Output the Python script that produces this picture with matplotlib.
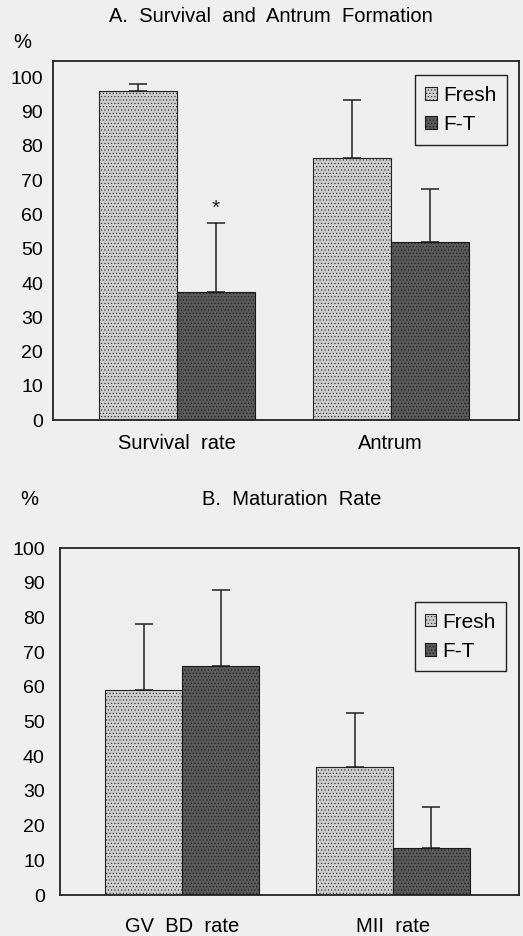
import numpy as np
import matplotlib
matplotlib.use("Agg")
import matplotlib.pyplot as plt

plt.rcParams['font.family'] = ['Liberation Sans', 'DejaVu Sans']
plt.rcParams['hatch.linewidth'] = 0.4

# data (%)
groups = ["Fresh", "F-T"]
cats_a = ["Survival  rate", "Antrum"]
fresh_a = [96, 76.5]
fresh_a_err = [2, 17]
ft_a = [37.5, 52]
ft_a_err = [20, 15.5]

cats_b = ["GV  BD  rate", "MII  rate"]
fresh_b = [59, 37]
fresh_b_err = [19, 15.5]
ft_b = [66, 13.5]
ft_b_err = [22, 12]

yticks = list(range(0, 101, 10))

bg = '#efefef'
c_fresh = '#cdcdcd'
c_ft = '#595959'
w = 0.365
fs = 14.5

fig = plt.figure(figsize=(5.23, 9.36), dpi=100, facecolor=bg)
ax_a = fig.add_axes([0.101, 0.551, 0.891, 0.3835])
ax_b = fig.add_axes([0.115, 0.0438, 0.878, 0.3707])


def panel(ax, cats, fresh, fresh_err, ft, ft_err, ytop, leg_anchor, ypad, xpad):
    x = np.arange(len(cats))
    ax.bar(x - w / 2, fresh, w, color=c_fresh, edgecolor='#222222',
           hatch='.....', linewidth=0.8, label=groups[0], zorder=2)
    ax.bar(x + w / 2, ft, w, color=c_ft, edgecolor='#1a1a1a',
           hatch='.....', linewidth=0.8, label=groups[1], zorder=2)
    ax.errorbar(x - w / 2, fresh, yerr=[np.zeros(len(x)), fresh_err], fmt='none',
                ecolor='#222222', elinewidth=1.1, capsize=6.5, capthick=1.1, zorder=1)
    ax.errorbar(x + w / 2, ft, yerr=[np.zeros(len(x)), ft_err], fmt='none',
                ecolor='#222222', elinewidth=1.1, capsize=6.5, capthick=1.1, zorder=1)
    ax.set_xlim(-0.58, 1.6)
    ax.set_ylim(0, ytop)
    ax.set_yticks(yticks)
    ax.set_xticks(x)
    ax.set_xticklabels(cats, fontsize=fs)
    ax.tick_params(axis='y', length=0, labelsize=14, pad=ypad)
    ax.tick_params(axis='x', length=0, pad=xpad)
    ax.set_facecolor(bg)
    for s in ax.spines.values():
        s.set_linewidth(1.3)
        s.set_color('#222222')
    leg = ax.legend(loc='upper right', bbox_to_anchor=leg_anchor, fontsize=15,
                    handlelength=0.55, handleheight=0.55, handletextpad=0.3,
                    borderpad=0.5, labelspacing=0.5, borderaxespad=0,
                    fancybox=False, edgecolor='#222222', facecolor=bg, framealpha=1)
    leg.get_frame().set_linewidth(1.0)
    return x


xa = panel(ax_a, cats_a, fresh_a, fresh_a_err, ft_a, ft_a_err, 104.7, (0.974, 0.961), 7, 10)
xb = panel(ax_b, cats_b, fresh_b, fresh_b_err, ft_b, ft_b_err, 100, (0.972, 0.844), 11, 16)

# significance mark
ax_a.text(xa[0] + w / 2, ft_a[0] + ft_a_err[0] + 1.5, "*", ha='center', va='bottom',
          fontsize=15, color='#222222')

fig.text(0.518, 0.982, "A.  Survival  and  Antrum  Formation", ha='center', va='center', fontsize=fs)
fig.text(0.042, 0.955, "%", ha='center', va='center', fontsize=fs)
fig.text(0.558, 0.466, "B.  Maturation  Rate", ha='center', va='center', fontsize=fs)
fig.text(0.056, 0.466, "%", ha='center', va='center', fontsize=fs)

fig.savefig("out.png", dpi=100, facecolor=bg)
